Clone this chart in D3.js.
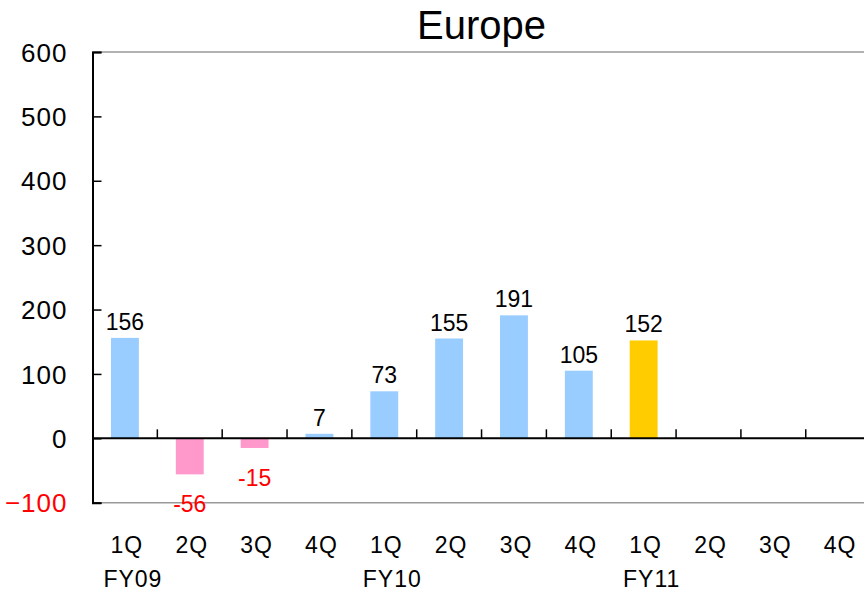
<!DOCTYPE html>
<html>
<head>
<meta charset="utf-8">
<script src="https://cdn.jsdelivr.net/npm/d3@7"></script>
<style>
  html, body { margin: 0; padding: 0; background: #fff; }
  svg { display: block; font-family: "Liberation Sans", Arial, sans-serif; }
</style>
</head>
<body>
<svg id="chart" width="864" height="593"></svg>
<script>
// ---- data ----
const title = "Europe";
const quarters = ["1Q","2Q","3Q","4Q","1Q","2Q","3Q","4Q","1Q","2Q","3Q","4Q"];
const fiscalYears = ["FY09","","","","FY10","","","","FY11","","",""];
const values = [156, -56, -15, 7, 73, 155, 191, 105, 152, null, null, null];
const highlightIndex = 8; // current quarter
const yTicks = [-100, 0, 100, 200, 300, 400, 500, 600];

// ---- layout ----
const W = 864, H = 593;
const plotLeft = 92.5, plotRight = 870.6, plotTop = 52, plotBottom = 502.7;

const svg = d3.select("#chart");

const x = d3.scaleBand()
  .domain(d3.range(quarters.length))
  .range([plotLeft, plotRight])
  .paddingInner(0.57)
  .paddingOuter(0.285);
const step = x.step();

const y = d3.scaleLinear().domain([-100, 600]).range([plotBottom, plotTop]);

// plot area border (gray) top and bottom
svg.append("line")
  .attr("x1", plotLeft).attr("x2", W + 10)
  .attr("y1", y(600)).attr("y2", y(600))
  .attr("stroke", "#999").attr("stroke-width", 1.5);
svg.append("line")
  .attr("x1", plotLeft).attr("x2", W + 10)
  .attr("y1", y(-100)).attr("y2", y(-100))
  .attr("stroke", "#999").attr("stroke-width", 1.5);

// bars
const barData = values.map((v, i) => ({ i, v })).filter(d => d.v !== null);
svg.append("g").selectAll("rect").data(barData).enter().append("rect")
  .attr("x", d => x(d.i))
  .attr("width", x.bandwidth())
  .attr("y", d => y(Math.max(0, d.v)))
  .attr("height", d => Math.abs(y(d.v) - y(0)))
  .attr("fill", d => d.i === highlightIndex ? "#FFCC00" : (d.v < 0 ? "#FF99CC" : "#99CCFF"));

// y axis
const yAxis = d3.axisLeft(y).tickValues(yTicks).tickSize(-9).tickPadding(25).tickFormat(d3.format("d"));
const gy = svg.append("g").attr("transform", `translate(${plotLeft},0)`).call(yAxis);
gy.select(".domain").attr("stroke", "#000").attr("stroke-width", 2);
gy.selectAll(".tick line").attr("stroke", "#000").attr("stroke-width", 1.5);
gy.selectAll(".tick text")
  .attr("font-size", 26)
  .attr("font-family", "Liberation Sans, Arial, sans-serif")
  .attr("letter-spacing", 1)
  .attr("fill", d => d < 0 ? "#FF0000" : "#000")
  .attr("dy", "0.35em");

// zero axis with category boundary ticks
const boundaries = d3.range(1, quarters.length).map(i => plotLeft + i * step);
const gx = svg.append("g").attr("transform", `translate(0,${y(0)})`);
gx.append("line")
  .attr("x1", plotLeft).attr("x2", W + 10)
  .attr("y1", 0).attr("y2", 0)
  .attr("stroke", "#000").attr("stroke-width", 2);
gx.selectAll("line.tk").data(boundaries).enter().append("line")
  .attr("class", "tk")
  .attr("x1", d => d).attr("x2", d => d)
  .attr("y1", 0).attr("y2", -9)
  .attr("stroke", "#000").attr("stroke-width", 1.5);

// category labels
svg.append("g").selectAll("text").data(quarters).enter().append("text")
  .attr("x", (d, i) => x(i) + x.bandwidth() / 2 + 2)
  .attr("y", 553)
  .attr("text-anchor", "middle")
  .attr("font-size", 23)
  .attr("letter-spacing", 1)
  .attr("fill", "#000")
  .text(d => d);

svg.append("g").selectAll("text").data(fiscalYears).enter().append("text")
  .attr("x", (d, i) => x(i) + x.bandwidth() / 2 + 8)
  .attr("y", 587)
  .attr("text-anchor", "middle")
  .attr("font-size", 23)
  .attr("letter-spacing", 1)
  .attr("fill", "#000")
  .text(d => d);

// value labels
svg.append("g").selectAll("text").data(barData).enter().append("text")
  .attr("x", d => x(d.i) + x.bandwidth() / 2)
  .attr("y", d => d.v < 0 ? y(d.v) + 38 : y(d.v) - 8)
  .attr("text-anchor", "middle")
  .attr("font-size", 23)
  .attr("fill", d => d.v < 0 ? "#FF0000" : "#000")
  .text(d => d.v);

// title
svg.append("text")
  .attr("x", (plotLeft + plotRight) / 2)
  .attr("y", 39)
  .attr("text-anchor", "middle")
  .attr("font-size", 40)
  .attr("fill", "#000")
  .text(title);
</script>
</body>
</html>
